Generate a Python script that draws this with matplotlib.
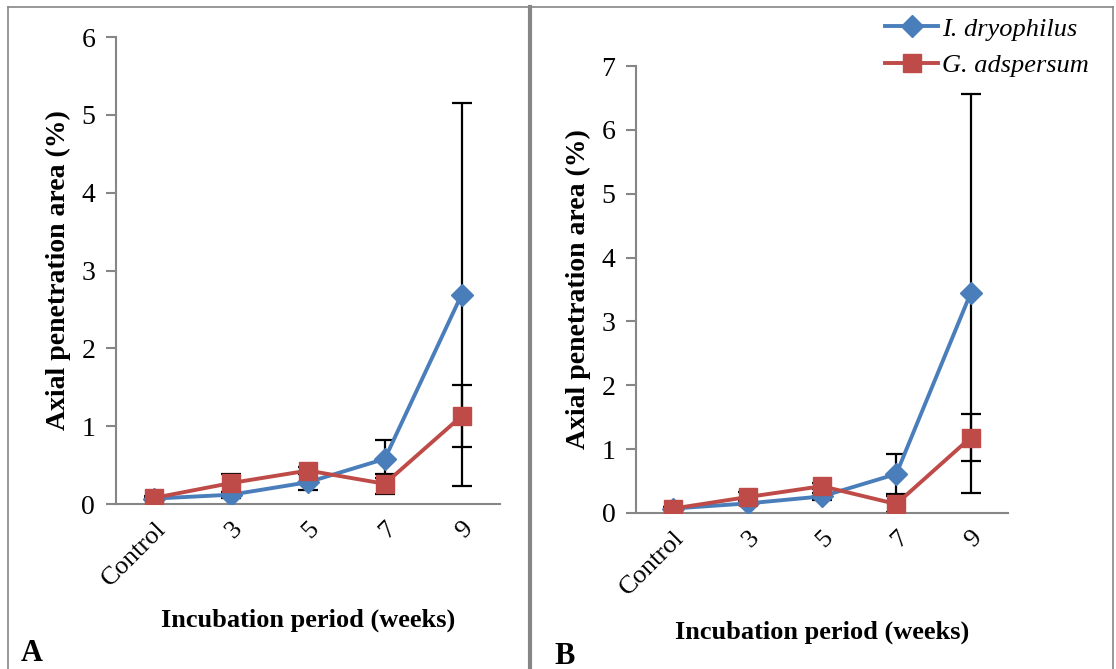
import matplotlib
matplotlib.use("Agg")
import matplotlib.pyplot as plt
from matplotlib.lines import Line2D

plt.rcParams["font.family"] = ["Liberation Serif", "DejaVu Serif"]

categories = ["Control", "3", "5", "7", "9"]

# Panel A
a_dry = [0.07, 0.12, 0.28, 0.58, 2.69]
a_dry_err = [0.02, 0.04, 0.10, 0.24, 2.46]
a_ads = [0.08, 0.27, 0.43, 0.26, 1.13]
a_ads_err = [0.02, 0.12, 0.05, 0.13, 0.40]

# Panel B
b_dry = [0.07, 0.15, 0.26, 0.61, 3.44]
b_dry_err = [0.02, 0.03, 0.05, 0.31, 3.13]
b_ads = [0.07, 0.25, 0.42, 0.14, 1.18]
b_ads_err = [0.02, 0.08, 0.05, 0.12, 0.37]

BLUE = "#4A7EBB"
RED = "#BE4B48"
GRAY = "#868686"


def draw_panel(ax, dry, dry_err, ads, ads_err, ymax, xlab_y, ylab_x):
    x = list(range(len(categories)))
    for vals, errs, col, mk, ms, lab in [
            (dry, dry_err, BLUE, "D", 11, "I. dryophilus"),
            (ads, ads_err, RED, "s", 12.5, "G. adspersum")]:
        ax.errorbar(x, vals, yerr=errs, fmt="none", ecolor="black",
                    elinewidth=1.6, capsize=7.5, capthick=1.6, zorder=2)
        ax.plot(x, vals, color=col, lw=2.8, marker=mk, ms=ms,
                mec=col, mfc=col, label=lab, zorder=3)

    ax.set_xlim(-0.5, len(categories) - 0.5)
    ax.set_ylim(0, ymax)
    ax.set_yticks(range(ymax + 1))
    ax.set_xticks(x)
    ax.set_xticklabels(categories, rotation=45, ha="right",
                       rotation_mode="anchor")
    for s in ["top", "right"]:
        ax.spines[s].set_visible(False)
    for s in ["left", "bottom"]:
        ax.spines[s].set_color(GRAY)
        ax.spines[s].set_linewidth(1.5)
    ax.tick_params(axis="y", length=7, width=1.5, color=GRAY,
                   labelsize=20, pad=8)
    ax.tick_params(axis="x", length=0, labelsize=19, pad=10)

    ax.set_xlabel("Incubation period (weeks)", fontsize=19,
                  fontweight="bold", va="center")
    ax.xaxis.set_label_coords(0.5, xlab_y)
    ax.set_ylabel("Axial penetration area (%)", fontsize=20,
                  fontweight="bold", va="center")
    ax.yaxis.set_label_coords(ylab_x, 0.5)


fig = plt.figure(figsize=(11.16, 6.69), dpi=100)

ax_a = fig.add_axes([0.104, 0.2466, 0.344, 0.698])
draw_panel(ax_a, a_dry, a_dry_err, a_ads, a_ads_err, 6, -0.248, -0.15)

ax_b = fig.add_axes([0.570, 0.2332, 0.333, 0.668])
draw_panel(ax_b, b_dry, b_dry_err, b_ads, b_ads_err, 7, -0.266, -0.155)

handles, labels = ax_b.get_legend_handles_labels()
fig.legend(handles, labels, loc="upper right",
           bbox_to_anchor=(0.985, 0.99), frameon=False, borderaxespad=0,
           prop={"size": 19, "style": "italic"}, handlelength=2.0,
           handletextpad=0.15, labelspacing=0.5)

# panel frames
fig.add_artist(Line2D([0.007, 0.997], [0.9895, 0.9895], color=GRAY, lw=1.2))
fig.add_artist(Line2D([0.007, 0.007], [0, 0.9895], color=GRAY, lw=1.2))
fig.add_artist(Line2D([0.4745, 0.4745], [0, 0.9895], color=GRAY, lw=3))
fig.add_artist(Line2D([0.997, 0.997], [0, 0.9895], color=GRAY, lw=1.2))

fig.text(0.019, 0.012, "A", fontsize=22, fontweight="bold")
fig.text(0.497, 0.008, "B", fontsize=22, fontweight="bold")

fig.savefig("out.png", dpi=100)
